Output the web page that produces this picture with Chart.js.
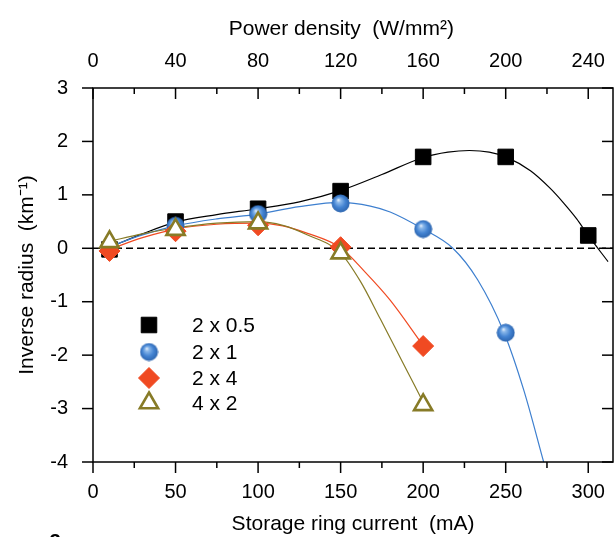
<!DOCTYPE html>
<html>
<head>
<title>Inverse radius vs storage ring current</title>
<script src="https://cdn.jsdelivr.net/npm/chart.js@4"></script>
<style>
  body { margin: 0; background: #fff; }
</style>
</head>
<body>
<canvas id="myChart" width="615" height="537"></canvas>
<script>
// measured points (mA -> km^-1)
const currents = [10, 50, 100, 150, 200, 250, 300];
const r2x05 = [-0.02, 0.5, 0.74, 1.07, 1.71, 1.71, 0.24];
const r2x1 = [0.0, 0.42, 0.64, 0.84, 0.36, -1.58];
const r2x4 = [-0.05, 0.32, 0.43, 0.02, -1.83];
const r4x2 = [0.12, 0.35, 0.47, -0.09, -2.93];

// fitted curves
const fitX05 = [10, 30, 50, 75, 100, 125, 150, 175, 200, 215, 228, 240, 250, 265, 277, 285, 293, 300, 312];
const fitY05 = [0.02, 0.27, 0.49, 0.63, 0.74, 0.87, 1.08, 1.38, 1.70, 1.80, 1.83, 1.80, 1.71, 1.45, 1.12, 0.85, 0.55, 0.24, -0.25];
const fitX1 = [10, 30, 50, 75, 100, 125, 150, 168, 180, 200, 218, 233, 249, 261, 273];
const fitY1 = [0.03, 0.25, 0.42, 0.55, 0.64, 0.78, 0.86, 0.79, 0.68, 0.36, 0.0, -0.59, -1.58, -2.66, -4.0];
const fitX4 = [10, 30, 50, 75, 100, 115, 130, 150, 165, 180, 200];
const fitY4 = [-0.02, 0.2, 0.36, 0.45, 0.47, 0.42, 0.28, 0.01, -0.45, -0.97, -1.82];
const fitX42 = [10, 30, 50, 75, 100, 115, 130, 150, 162, 174, 187, 200];
const fitY42 = [0.13, 0.27, 0.38, 0.47, 0.5, 0.43, 0.25, -0.09, -0.62, -1.32, -2.1, -2.88];

const seriesLabels = ['2 x 0.5', '2 x 1', '2 x 4', '4 x 2'];

const currentTicks = [0, 50, 100, 150, 200, 250, 300];
const currentMinor = [25, 75, 125, 175, 225, 275];
const powerTicks = [0, 40, 80, 120, 160, 200, 240];
const powerMinor = [20, 60, 100, 140, 180, 220];
const radiusTicks = [-4, -3, -2, -1, 0, 1, 2, 3];

const X_MAX = 315;          // right edge of the frame (mA)
const POWER_PER_MA = 0.8;   // 300 mA <-> 240 W/mm2

const BLUE = '#3d7fcf';
const RED = '#f04a22';
const OLIVE = '#877b27';

Chart.defaults.font.family = '"Liberation Sans", Arial, sans-serif';
Chart.defaults.color = '#000';

function makeSphere(d) {
  const c = document.createElement('canvas');
  c.width = c.height = d;
  const g = c.getContext('2d');
  const r = d / 2;
  const grad = g.createRadialGradient(r * 0.75, r * 0.62, 0, r, r, r);
  grad.addColorStop(0, '#f2f7fd');
  grad.addColorStop(0.22, '#8bb8ea');
  grad.addColorStop(0.6, '#4383d2');
  grad.addColorStop(1, '#2b62ab');
  g.fillStyle = grad;
  g.beginPath();
  g.arc(r, r, r - 0.5, 0, Math.PI * 2);
  g.fill();
  return c;
}
const sphere = makeSphere(19);

const pts = (xs, ys) => ys.map((y, i) => ({x: xs[i], y: y}));

const markers = [
  {label: seriesLabels[0], data: pts(currents, r2x05), pointStyle: 'rect', pointRadius: 11,
   backgroundColor: '#000', borderColor: '#000', pointBorderWidth: 1, order: 4},
  {label: seriesLabels[1], data: pts(currents, r2x1), pointStyle: sphere, pointRadius: 9.5,
   backgroundColor: BLUE, borderColor: BLUE, pointBorderWidth: 0, order: 3},
  {label: seriesLabels[2], data: pts(currents, r2x4), pointStyle: 'rectRot', pointRadius: 10.5,
   backgroundColor: RED, borderColor: RED, pointBorderWidth: 1, order: 2},
  {label: seriesLabels[3], data: pts(currents, r4x2), pointStyle: 'triangle', pointRadius: 10.5,
   backgroundColor: '#fff', borderColor: OLIVE, pointBorderWidth: 2.6, order: 1},
];
markers.forEach(m => { m.showLine = false; m.pointHoverRadius = m.pointRadius; });

const fit = (xs, ys, color, order) => ({
  label: 'fit', data: pts(xs, ys), showLine: true, pointRadius: 0, borderColor: color,
  borderWidth: 1.2, cubicInterpolationMode: 'monotone', order: order
});

const zeroLine = {
  label: 'zero', data: pts([0, X_MAX], [0, 0]), showLine: true, pointRadius: 0,
  borderColor: '#000', borderWidth: 1.5, borderDash: [7, 4], order: 20
};

// frame with inward/outward ticks like the original plot
const axisFrame = {
  id: 'axisFrame',
  afterDraw(chart) {
    const {ctx, chartArea: a, scales} = chart;
    const line = (x1, y1, x2, y2) => { ctx.beginPath(); ctx.moveTo(x1, y1); ctx.lineTo(x2, y2); ctx.stroke(); };
    ctx.save();
    ctx.strokeStyle = '#000';
    ctx.lineWidth = 1.5;
    ctx.strokeRect(a.left, a.top, a.right - a.left, a.bottom - a.top);
    currentTicks.forEach(v => { const x = scales.x.getPixelForValue(v); line(x, a.bottom, x, a.bottom + 11); });
    currentMinor.forEach(v => { const x = scales.x.getPixelForValue(v); line(x, a.bottom, x, a.bottom + 6); });
    powerTicks.forEach(v => { const x = scales.x2.getPixelForValue(v); line(x, a.top, x, a.top + 11); });
    powerMinor.forEach(v => { const x = scales.x2.getPixelForValue(v); line(x, a.top, x, a.top + 6); });
    radiusTicks.forEach(v => {
      const y = scales.y.getPixelForValue(v);
      line(a.left - 11, y, a.left, y);
      line(a.right - 11, y, a.right, y);
    });
    // panel letter, cut off at the bottom of the figure
    ctx.fillStyle = '#000';
    ctx.font = 'bold 22px "Liberation Sans", Arial, sans-serif';
    ctx.fillText('a', 49, 546);
    ctx.restore();
  }
};

const insetLegend = {
  id: 'insetLegend',
  afterDraw(chart) {
    const {ctx, chartArea: a} = chart;
    const mx = a.left + 56, tx = a.left + 99;
    const rowY = [325, 352, 378, 403];
    ctx.save();
    ctx.font = '21px "Liberation Sans", Arial, sans-serif';
    ctx.textBaseline = 'middle';
    markers.forEach((m, i) => {
      ctx.fillStyle = m.backgroundColor;
      ctx.strokeStyle = m.borderColor;
      ctx.lineWidth = m.pointBorderWidth;
      Chart.helpers.drawPoint(ctx, {pointStyle: m.pointStyle, radius: m.pointRadius,
        rotation: 0, borderWidth: m.pointBorderWidth}, mx, rowY[i]);
      ctx.fillStyle = '#000';
      ctx.fillText(m.label, tx, rowY[i] + 1);
    });
    ctx.restore();
  }
};

const setTicks = values => scale => { scale.ticks = values.map(v => ({value: v})); };

const config = {
  type: 'scatter',
  data: {
    datasets: markers.concat([
      fit(fitX05, fitY05, '#000', 13),
      fit(fitX1, fitY1, BLUE, 12),
      fit(fitX4, fitY4, RED, 11),
      fit(fitX42, fitY42, OLIVE, 10),
      zeroLine
    ])
  },
  options: {
    responsive: false,
    animation: false,
    layout: { autoPadding: false, padding: {left: 0, right: 2, top: 0, bottom: 0} },
    plugins: { legend: {display: false}, tooltip: {enabled: false} },
    scales: {
      x: {
        type: 'linear', position: 'bottom', min: 0, max: X_MAX,
        grid: {display: false}, border: {display: false},
        afterBuildTicks: setTicks(currentTicks),
        afterFit: s => { s.height = 75; s.paddingLeft = 0; s.paddingRight = 0; },
        ticks: {font: {size: 20}, padding: 10, maxRotation: 0},
        title: {display: true, text: 'Storage ring current  (mA)', font: {size: 21}, padding: {top: 0, bottom: 0}}
      },
      x2: {
        type: 'linear', position: 'top', min: 0, max: X_MAX * POWER_PER_MA,
        grid: {display: false}, border: {display: false},
        afterBuildTicks: setTicks(powerTicks),
        afterFit: s => { s.height = 88; s.paddingLeft = 0; s.paddingRight = 0; },
        ticks: {font: {size: 20}, padding: 7, maxRotation: 0},
        title: {display: true, text: 'Power density  (W/mm²)    ', font: {size: 21}, padding: {top: 17, bottom: 0}}
      },
      y: {
        type: 'linear', position: 'left', min: -4, max: 3,
        grid: {display: false}, border: {display: false},
        afterBuildTicks: setTicks(radiusTicks),
        afterFit: s => { s.width = 93; s.paddingTop = 0; s.paddingBottom = 0; },
        ticks: {font: {size: 20}, padding: 17},
        title: {display: true, text: 'Inverse radius  (km⁻¹)', font: {size: 21}, padding: {top: 15, bottom: 0}}
      }
    }
  },
  plugins: [axisFrame, insetLegend]
};

const myChart = new Chart(document.getElementById('myChart'), config);
</script>
</body>
</html>
